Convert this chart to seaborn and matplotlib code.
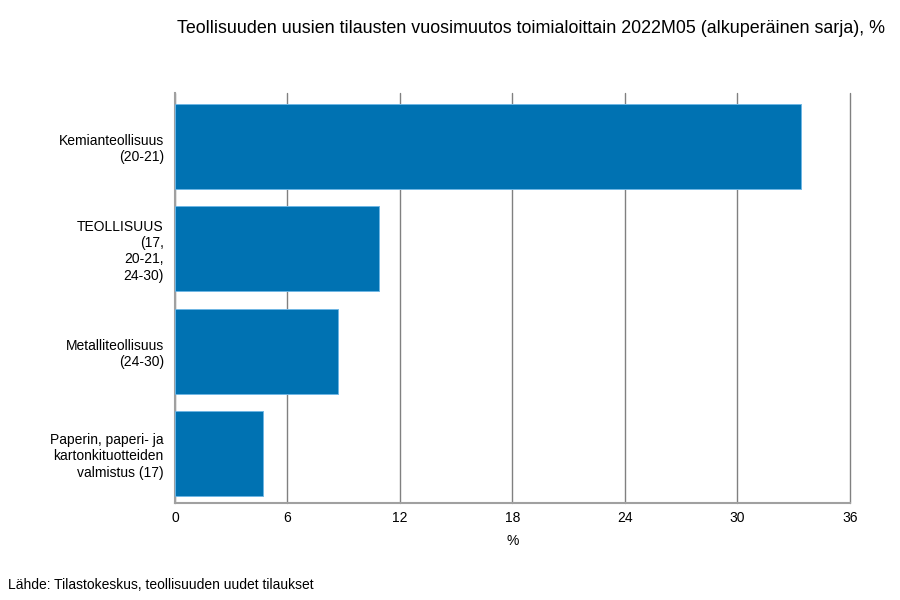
import matplotlib
matplotlib.use("Agg")
import matplotlib.pyplot as plt
import seaborn as sns
import pandas as pd

categories = [
    "Kemianteollisuus\n(20-21)",
    "TEOLLISUUS\n(17,\n20-21,\n24-30)",
    "Metalliteollisuus\n(24-30)",
    "Paperin, paperi- ja\nkartonkituotteiden\nvalmistus (17)",
]
values = [33.4, 10.9, 8.7, 4.7]
x_ticks = [0, 6, 12, 18, 24, 30, 36]

title = "Teollisuuden uusien tilausten vuosimuutos toimialoittain 2022M05 (alkuperäinen sarja), %"
source = "Lähde: Tilastokeskus, teollisuuden uudet tilaukset"

sns.set_theme(style="white")
plt.rcParams['font.family'] = ['Liberation Sans', 'DejaVu Sans']

df = pd.DataFrame({"cat": categories, "val": values})

fig = plt.figure(figsize=(9, 6), dpi=100)
ax = fig.add_axes([0.1944, 0.1617, 0.75, 0.6833])

sns.barplot(data=df, x="val", y="cat", orient="h", color="#0072b2",
            saturation=1, width=0.83, edgecolor="#6fb6e4", linewidth=0.7,
            ax=ax, zorder=3)

ax.set_xlim(0, 36)
ax.set_ylim(3.48, -0.52)
ax.set_xticks(x_ticks)
ax.set_xticklabels([str(t) for t in x_ticks], fontsize=10, color="#000000")
ax.tick_params(axis="y", labelsize=10, length=0, pad=8, labelcolor="#000000")
ax.tick_params(axis="x", length=0, pad=6)
for lbl in ax.get_yticklabels():
    lbl.set_horizontalalignment("right")
    lbl.set_multialignment("right")

ax.xaxis.grid(True, color="#808080", linewidth=1.0, zorder=0)
for gl in ax.get_xgridlines():
    gl.set_clip_on(False)
ax.yaxis.grid(False)
for s in ["top", "right"]:
    ax.spines[s].set_visible(False)
for s in ["left", "bottom"]:
    ax.spines[s].set_color("#a0a0a0")
    ax.spines[s].set_linewidth(1.5)

ax.set_xlabel("%", fontsize=10, labelpad=6, color="#000000")
ax.set_ylabel("")

fig.text(0.59, 0.953, title, ha="center", va="center", fontsize=12.9, color="#000000")
fig.text(0.009, 0.025, source, ha="left", va="center", fontsize=10, color="#000000")

fig.savefig("out.png", dpi=100)
